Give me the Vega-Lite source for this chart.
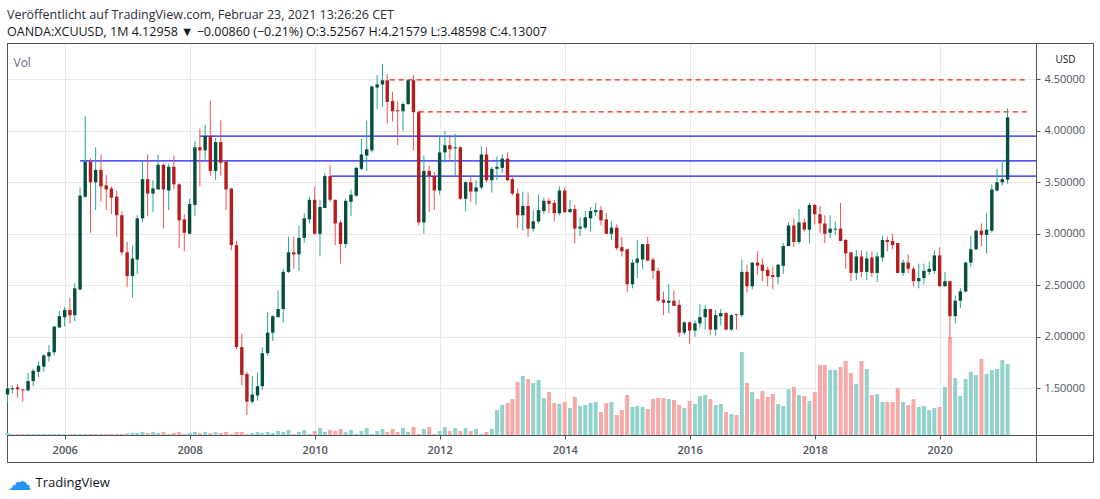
{
  "$schema": "https://vega.github.io/schema/vega-lite/v6.json",
  "width": 1029,
  "height": 392,
  "autosize": "none",
  "padding": {"left": 7, "top": 43, "right": 64, "bottom": 64},
  "background": "#ffffff",
  "title": {
    "text": "Veröffentlicht auf TradingView.com, Februar 23, 2021 13:26:26 CET",
    "subtitle": "OANDA:XCUUSD, 1M  4.12958 ▼ −0.00860 (−0.21%) O:3.52567 H:4.21579 L:3.48598 C:4.13007",
    "anchor": "start",
    "frame": "group",
    "offset": 5,
    "font": "Open Sans",
    "fontSize": 12.5,
    "fontWeight": "normal",
    "color": "#2a2e39",
    "subtitleFont": "Open Sans",
    "subtitleFontSize": 12.5,
    "subtitleFontWeight": "normal",
    "subtitleColor": "#131722",
    "subtitlePadding": 4
  },
  "datasets": {
    "levels": [
      {"s": "2006-04-01", "e": "2021-07-17", "p": 3.707, "k": "support"},
      {"s": "2008-03-01", "e": "2021-07-17", "p": 3.948, "k": "support"},
      {"s": "2010-04-05", "e": "2021-07-17", "p": 3.56, "k": "support"},
      {"s": "2011-03-15", "e": "2021-05-17", "p": 4.495, "k": "target"},
      {"s": "2011-09-01", "e": "2021-05-27", "p": 4.183, "k": "target"}
    ]
  },
  "data": {
    "values": [
      {"d": "2005-02-01", "o": 1.44, "h": 1.51, "l": 1.36, "c": 1.50, "v": 2},
      {"d": "2005-03-01", "o": 1.49, "h": 1.53, "l": 1.45, "c": 1.50, "v": 1},
      {"d": "2005-04-01", "o": 1.51, "h": 1.54, "l": 1.41, "c": 1.49, "v": 1},
      {"d": "2005-05-01", "o": 1.49, "h": 1.49, "l": 1.37, "c": 1.48, "v": 1},
      {"d": "2005-06-01", "o": 1.48, "h": 1.65, "l": 1.47, "c": 1.57, "v": 1},
      {"d": "2005-07-01", "o": 1.57, "h": 1.69, "l": 1.52, "c": 1.67, "v": 1},
      {"d": "2005-08-01", "o": 1.66, "h": 1.76, "l": 1.61, "c": 1.72, "v": 1},
      {"d": "2005-09-01", "o": 1.71, "h": 1.83, "l": 1.66, "c": 1.82, "v": 1},
      {"d": "2005-10-01", "o": 1.81, "h": 1.92, "l": 1.76, "c": 1.85, "v": 1},
      {"d": "2005-11-01", "o": 1.85, "h": 2.10, "l": 1.82, "c": 2.10, "v": 1},
      {"d": "2005-12-01", "o": 2.09, "h": 2.25, "l": 2.09, "c": 2.20, "v": 1},
      {"d": "2006-01-01", "o": 2.19, "h": 2.29, "l": 2.10, "c": 2.26, "v": 1},
      {"d": "2006-02-01", "o": 2.26, "h": 2.38, "l": 2.13, "c": 2.21, "v": 1},
      {"d": "2006-03-01", "o": 2.21, "h": 2.52, "l": 2.15, "c": 2.47, "v": 1},
      {"d": "2006-04-01", "o": 2.46, "h": 3.45, "l": 2.45, "c": 3.37, "v": 1},
      {"d": "2006-05-01", "o": 3.36, "h": 4.14, "l": 3.35, "c": 3.70, "v": 1},
      {"d": "2006-06-01", "o": 3.70, "h": 3.73, "l": 3.01, "c": 3.50, "v": 1},
      {"d": "2006-07-01", "o": 3.50, "h": 3.84, "l": 3.23, "c": 3.62, "v": 1},
      {"d": "2006-08-01", "o": 3.62, "h": 3.77, "l": 3.31, "c": 3.46, "v": 1},
      {"d": "2006-09-01", "o": 3.47, "h": 3.57, "l": 3.23, "c": 3.43, "v": 1},
      {"d": "2006-10-01", "o": 3.44, "h": 3.46, "l": 3.19, "c": 3.35, "v": 1},
      {"d": "2006-11-01", "o": 3.36, "h": 3.42, "l": 2.97, "c": 3.18, "v": 1},
      {"d": "2006-12-01", "o": 3.18, "h": 3.22, "l": 2.79, "c": 2.82, "v": 1},
      {"d": "2007-01-01", "o": 2.82, "h": 2.92, "l": 2.48, "c": 2.59, "v": 1.7},
      {"d": "2007-02-01", "o": 2.59, "h": 2.89, "l": 2.38, "c": 2.76, "v": 2},
      {"d": "2007-03-01", "o": 2.75, "h": 3.18, "l": 2.61, "c": 3.15, "v": 2},
      {"d": "2007-04-01", "o": 3.15, "h": 3.71, "l": 3.11, "c": 3.53, "v": 3},
      {"d": "2007-05-01", "o": 3.53, "h": 3.77, "l": 3.17, "c": 3.39, "v": 2},
      {"d": "2007-06-01", "o": 3.39, "h": 3.52, "l": 3.21, "c": 3.44, "v": 3},
      {"d": "2007-07-01", "o": 3.43, "h": 3.77, "l": 3.43, "c": 3.67, "v": 2},
      {"d": "2007-08-01", "o": 3.67, "h": 3.68, "l": 3.05, "c": 3.43, "v": 3},
      {"d": "2007-09-01", "o": 3.42, "h": 3.68, "l": 3.23, "c": 3.65, "v": 1},
      {"d": "2007-10-01", "o": 3.65, "h": 3.76, "l": 3.43, "c": 3.48, "v": 2},
      {"d": "2007-11-01", "o": 3.48, "h": 3.49, "l": 2.86, "c": 3.13, "v": 3},
      {"d": "2007-12-01", "o": 3.14, "h": 3.19, "l": 2.83, "c": 3.01, "v": 1},
      {"d": "2008-01-01", "o": 3.00, "h": 3.34, "l": 3.00, "c": 3.29, "v": 2},
      {"d": "2008-02-01", "o": 3.28, "h": 3.90, "l": 3.17, "c": 3.84, "v": 3},
      {"d": "2008-03-01", "o": 3.84, "h": 4.02, "l": 3.46, "c": 3.81, "v": 2},
      {"d": "2008-04-01", "o": 3.81, "h": 4.06, "l": 3.72, "c": 3.95, "v": 3},
      {"d": "2008-05-01", "o": 3.95, "h": 4.29, "l": 3.56, "c": 3.61, "v": 2},
      {"d": "2008-06-01", "o": 3.61, "h": 3.93, "l": 3.52, "c": 3.89, "v": 3},
      {"d": "2008-07-01", "o": 3.89, "h": 4.10, "l": 3.56, "c": 3.69, "v": 2},
      {"d": "2008-08-01", "o": 3.70, "h": 3.71, "l": 3.23, "c": 3.43, "v": 3},
      {"d": "2008-09-01", "o": 3.44, "h": 3.44, "l": 2.84, "c": 2.89, "v": 1},
      {"d": "2008-10-01", "o": 2.89, "h": 2.93, "l": 1.88, "c": 1.90, "v": 3},
      {"d": "2008-11-01", "o": 1.90, "h": 2.03, "l": 1.53, "c": 1.63, "v": 3},
      {"d": "2008-12-01", "o": 1.64, "h": 1.66, "l": 1.24, "c": 1.37, "v": 1},
      {"d": "2009-01-01", "o": 1.37, "h": 1.62, "l": 1.35, "c": 1.44, "v": 2},
      {"d": "2009-02-01", "o": 1.43, "h": 1.65, "l": 1.38, "c": 1.52, "v": 3},
      {"d": "2009-03-01", "o": 1.52, "h": 1.90, "l": 1.48, "c": 1.84, "v": 2},
      {"d": "2009-04-01", "o": 1.84, "h": 2.24, "l": 1.81, "c": 2.04, "v": 3},
      {"d": "2009-05-01", "o": 2.04, "h": 2.21, "l": 1.96, "c": 2.20, "v": 2},
      {"d": "2009-06-01", "o": 2.19, "h": 2.45, "l": 2.19, "c": 2.27, "v": 4},
      {"d": "2009-07-01", "o": 2.27, "h": 2.66, "l": 2.14, "c": 2.63, "v": 3},
      {"d": "2009-08-01", "o": 2.63, "h": 2.97, "l": 2.62, "c": 2.82, "v": 5},
      {"d": "2009-09-01", "o": 2.82, "h": 2.97, "l": 2.66, "c": 2.80, "v": 1},
      {"d": "2009-10-01", "o": 2.80, "h": 3.08, "l": 2.64, "c": 2.96, "v": 3},
      {"d": "2009-11-01", "o": 2.96, "h": 3.20, "l": 2.91, "c": 3.15, "v": 5},
      {"d": "2009-12-01", "o": 3.14, "h": 3.36, "l": 3.10, "c": 3.33, "v": 1},
      {"d": "2010-01-01", "o": 3.33, "h": 3.46, "l": 2.99, "c": 3.00, "v": 4},
      {"d": "2010-02-01", "o": 3.00, "h": 3.33, "l": 2.78, "c": 3.26, "v": 7},
      {"d": "2010-03-01", "o": 3.25, "h": 3.59, "l": 3.25, "c": 3.56, "v": 3},
      {"d": "2010-04-01", "o": 3.56, "h": 3.67, "l": 3.31, "c": 3.33, "v": 5},
      {"d": "2010-05-01", "o": 3.33, "h": 3.33, "l": 2.89, "c": 3.10, "v": 4},
      {"d": "2010-06-01", "o": 3.11, "h": 3.13, "l": 2.71, "c": 2.90, "v": 6},
      {"d": "2010-07-01", "o": 2.90, "h": 3.34, "l": 2.86, "c": 3.32, "v": 3},
      {"d": "2010-08-01", "o": 3.31, "h": 3.43, "l": 3.17, "c": 3.38, "v": 5},
      {"d": "2010-09-01", "o": 3.37, "h": 3.65, "l": 3.36, "c": 3.64, "v": 1},
      {"d": "2010-10-01", "o": 3.63, "h": 3.92, "l": 3.62, "c": 3.77, "v": 4},
      {"d": "2010-11-01", "o": 3.76, "h": 4.10, "l": 3.61, "c": 3.82, "v": 7},
      {"d": "2010-12-01", "o": 3.81, "h": 4.44, "l": 3.79, "c": 4.43, "v": 1},
      {"d": "2011-01-01", "o": 4.42, "h": 4.54, "l": 4.21, "c": 4.45, "v": 4},
      {"d": "2011-02-01", "o": 4.45, "h": 4.65, "l": 4.23, "c": 4.49, "v": 6},
      {"d": "2011-03-01", "o": 4.49, "h": 4.55, "l": 4.07, "c": 4.28, "v": 3},
      {"d": "2011-04-01", "o": 4.29, "h": 4.38, "l": 4.09, "c": 4.19, "v": 6},
      {"d": "2011-05-01", "o": 4.20, "h": 4.29, "l": 3.86, "c": 4.19, "v": 3},
      {"d": "2011-06-01", "o": 4.19, "h": 4.28, "l": 4.00, "c": 4.26, "v": 7},
      {"d": "2011-07-01", "o": 4.26, "h": 4.50, "l": 4.25, "c": 4.49, "v": 3},
      {"d": "2011-08-01", "o": 4.49, "h": 4.54, "l": 3.81, "c": 4.18, "v": 8},
      {"d": "2011-09-01", "o": 4.18, "h": 4.20, "l": 3.08, "c": 3.11, "v": 1},
      {"d": "2011-10-01", "o": 3.11, "h": 3.76, "l": 3.00, "c": 3.61, "v": 6},
      {"d": "2011-11-01", "o": 3.61, "h": 3.66, "l": 3.21, "c": 3.56, "v": 8},
      {"d": "2011-12-01", "o": 3.56, "h": 3.60, "l": 3.23, "c": 3.42, "v": 1},
      {"d": "2012-01-01", "o": 3.42, "h": 3.95, "l": 3.38, "c": 3.79, "v": 4},
      {"d": "2012-02-01", "o": 3.79, "h": 4.00, "l": 3.69, "c": 3.86, "v": 8},
      {"d": "2012-03-01", "o": 3.86, "h": 3.94, "l": 3.72, "c": 3.82, "v": 4},
      {"d": "2012-04-01", "o": 3.83, "h": 3.97, "l": 3.56, "c": 3.84, "v": 7},
      {"d": "2012-05-01", "o": 3.84, "h": 3.85, "l": 3.33, "c": 3.34, "v": 4},
      {"d": "2012-06-01", "o": 3.34, "h": 3.51, "l": 3.22, "c": 3.50, "v": 7},
      {"d": "2012-07-01", "o": 3.50, "h": 3.55, "l": 3.31, "c": 3.41, "v": 4},
      {"d": "2012-08-01", "o": 3.41, "h": 3.52, "l": 3.28, "c": 3.45, "v": 6},
      {"d": "2012-09-01", "o": 3.45, "h": 3.85, "l": 3.43, "c": 3.77, "v": 1},
      {"d": "2012-10-01", "o": 3.77, "h": 3.84, "l": 3.50, "c": 3.52, "v": 3},
      {"d": "2012-11-01", "o": 3.52, "h": 3.65, "l": 3.40, "c": 3.63, "v": 6},
      {"d": "2012-12-01", "o": 3.63, "h": 3.75, "l": 3.52, "c": 3.65, "v": 25},
      {"d": "2013-01-01", "o": 3.64, "h": 3.77, "l": 3.59, "c": 3.73, "v": 30},
      {"d": "2013-02-01", "o": 3.73, "h": 3.79, "l": 3.51, "c": 3.52, "v": 32},
      {"d": "2013-03-01", "o": 3.53, "h": 3.56, "l": 3.37, "c": 3.39, "v": 36},
      {"d": "2013-04-01", "o": 3.39, "h": 3.44, "l": 3.05, "c": 3.18, "v": 53},
      {"d": "2013-05-01", "o": 3.18, "h": 3.41, "l": 3.03, "c": 3.27, "v": 59},
      {"d": "2013-06-01", "o": 3.27, "h": 3.40, "l": 2.97, "c": 3.05, "v": 56},
      {"d": "2013-07-01", "o": 3.05, "h": 3.23, "l": 3.02, "c": 3.12, "v": 52},
      {"d": "2013-08-01", "o": 3.12, "h": 3.38, "l": 3.10, "c": 3.23, "v": 55},
      {"d": "2013-09-01", "o": 3.22, "h": 3.35, "l": 3.19, "c": 3.32, "v": 37},
      {"d": "2013-10-01", "o": 3.32, "h": 3.35, "l": 3.20, "c": 3.29, "v": 43},
      {"d": "2013-11-01", "o": 3.30, "h": 3.33, "l": 3.12, "c": 3.20, "v": 32},
      {"d": "2013-12-01", "o": 3.20, "h": 3.46, "l": 3.18, "c": 3.42, "v": 31},
      {"d": "2014-01-01", "o": 3.42, "h": 3.45, "l": 3.20, "c": 3.21, "v": 33},
      {"d": "2014-02-01", "o": 3.21, "h": 3.33, "l": 3.20, "c": 3.24, "v": 27},
      {"d": "2014-03-01", "o": 3.24, "h": 3.28, "l": 2.91, "c": 3.05, "v": 38},
      {"d": "2014-04-01", "o": 3.05, "h": 3.16, "l": 2.98, "c": 3.07, "v": 29},
      {"d": "2014-05-01", "o": 3.06, "h": 3.22, "l": 3.04, "c": 3.16, "v": 30},
      {"d": "2014-06-01", "o": 3.15, "h": 3.26, "l": 3.02, "c": 3.22, "v": 32},
      {"d": "2014-07-01", "o": 3.21, "h": 3.30, "l": 3.17, "c": 3.23, "v": 33},
      {"d": "2014-08-01", "o": 3.23, "h": 3.27, "l": 3.08, "c": 3.13, "v": 23},
      {"d": "2014-09-01", "o": 3.14, "h": 3.20, "l": 3.00, "c": 3.00, "v": 32},
      {"d": "2014-10-01", "o": 3.00, "h": 3.12, "l": 2.94, "c": 3.06, "v": 33},
      {"d": "2014-11-01", "o": 3.06, "h": 3.09, "l": 2.84, "c": 2.86, "v": 20},
      {"d": "2014-12-01", "o": 2.87, "h": 2.97, "l": 2.78, "c": 2.83, "v": 25},
      {"d": "2015-01-01", "o": 2.85, "h": 2.85, "l": 2.43, "c": 2.51, "v": 40},
      {"d": "2015-02-01", "o": 2.51, "h": 2.75, "l": 2.47, "c": 2.72, "v": 28},
      {"d": "2015-03-01", "o": 2.72, "h": 2.94, "l": 2.57, "c": 2.76, "v": 29},
      {"d": "2015-04-01", "o": 2.75, "h": 2.90, "l": 2.66, "c": 2.90, "v": 28},
      {"d": "2015-05-01", "o": 2.90, "h": 2.97, "l": 2.73, "c": 2.74, "v": 26},
      {"d": "2015-06-01", "o": 2.75, "h": 2.77, "l": 2.56, "c": 2.64, "v": 36},
      {"d": "2015-07-01", "o": 2.64, "h": 2.67, "l": 2.34, "c": 2.35, "v": 37},
      {"d": "2015-08-01", "o": 2.36, "h": 2.44, "l": 2.21, "c": 2.33, "v": 37},
      {"d": "2015-09-01", "o": 2.33, "h": 2.51, "l": 2.23, "c": 2.35, "v": 36},
      {"d": "2015-10-01", "o": 2.35, "h": 2.45, "l": 2.30, "c": 2.30, "v": 35},
      {"d": "2015-11-01", "o": 2.31, "h": 2.36, "l": 2.00, "c": 2.04, "v": 30},
      {"d": "2015-12-01", "o": 2.04, "h": 2.15, "l": 2.02, "c": 2.14, "v": 27},
      {"d": "2016-01-01", "o": 2.14, "h": 2.15, "l": 1.93, "c": 2.06, "v": 34},
      {"d": "2016-02-01", "o": 2.06, "h": 2.16, "l": 2.00, "c": 2.13, "v": 31},
      {"d": "2016-03-01", "o": 2.13, "h": 2.32, "l": 2.09, "c": 2.19, "v": 39},
      {"d": "2016-04-01", "o": 2.19, "h": 2.31, "l": 2.07, "c": 2.27, "v": 40},
      {"d": "2016-05-01", "o": 2.27, "h": 2.27, "l": 2.02, "c": 2.07, "v": 36},
      {"d": "2016-06-01", "o": 2.07, "h": 2.26, "l": 2.01, "c": 2.21, "v": 30},
      {"d": "2016-07-01", "o": 2.20, "h": 2.27, "l": 2.11, "c": 2.23, "v": 31},
      {"d": "2016-08-01", "o": 2.23, "h": 2.24, "l": 2.06, "c": 2.07, "v": 23},
      {"d": "2016-09-01", "o": 2.07, "h": 2.22, "l": 2.06, "c": 2.21, "v": 21},
      {"d": "2016-10-01", "o": 2.22, "h": 2.22, "l": 2.07, "c": 2.21, "v": 20},
      {"d": "2016-11-01", "o": 2.21, "h": 2.75, "l": 2.19, "c": 2.63, "v": 83},
      {"d": "2016-12-01", "o": 2.63, "h": 2.70, "l": 2.43, "c": 2.49, "v": 52},
      {"d": "2017-01-01", "o": 2.49, "h": 2.72, "l": 2.46, "c": 2.72, "v": 43},
      {"d": "2017-02-01", "o": 2.72, "h": 2.83, "l": 2.60, "c": 2.69, "v": 36},
      {"d": "2017-03-01", "o": 2.70, "h": 2.76, "l": 2.54, "c": 2.64, "v": 44},
      {"d": "2017-04-01", "o": 2.65, "h": 2.68, "l": 2.49, "c": 2.59, "v": 38},
      {"d": "2017-05-01", "o": 2.60, "h": 2.68, "l": 2.46, "c": 2.58, "v": 41},
      {"d": "2017-06-01", "o": 2.58, "h": 2.71, "l": 2.51, "c": 2.70, "v": 31},
      {"d": "2017-07-01", "o": 2.69, "h": 2.91, "l": 2.61, "c": 2.88, "v": 29},
      {"d": "2017-08-01", "o": 2.88, "h": 3.11, "l": 2.88, "c": 3.08, "v": 46},
      {"d": "2017-09-01", "o": 3.08, "h": 3.15, "l": 2.87, "c": 2.92, "v": 48},
      {"d": "2017-10-01", "o": 2.92, "h": 3.24, "l": 2.90, "c": 3.11, "v": 40},
      {"d": "2017-11-01", "o": 3.11, "h": 3.15, "l": 3.02, "c": 3.04, "v": 39},
      {"d": "2017-12-01", "o": 3.04, "h": 3.30, "l": 2.91, "c": 3.28, "v": 34},
      {"d": "2018-01-01", "o": 3.28, "h": 3.29, "l": 3.09, "c": 3.19, "v": 43},
      {"d": "2018-02-01", "o": 3.19, "h": 3.27, "l": 3.01, "c": 3.10, "v": 70},
      {"d": "2018-03-01", "o": 3.10, "h": 3.18, "l": 2.91, "c": 3.00, "v": 70},
      {"d": "2018-04-01", "o": 3.01, "h": 3.18, "l": 2.96, "c": 3.05, "v": 65},
      {"d": "2018-05-01", "o": 3.04, "h": 3.12, "l": 2.99, "c": 3.05, "v": 65},
      {"d": "2018-06-01", "o": 3.05, "h": 3.30, "l": 2.93, "c": 2.93, "v": 68},
      {"d": "2018-07-01", "o": 2.94, "h": 2.95, "l": 2.66, "c": 2.81, "v": 74},
      {"d": "2018-08-01", "o": 2.82, "h": 2.82, "l": 2.54, "c": 2.62, "v": 62},
      {"d": "2018-09-01", "o": 2.62, "h": 2.84, "l": 2.55, "c": 2.78, "v": 51},
      {"d": "2018-10-01", "o": 2.78, "h": 2.84, "l": 2.58, "c": 2.63, "v": 74},
      {"d": "2018-11-01", "o": 2.63, "h": 2.83, "l": 2.55, "c": 2.76, "v": 66},
      {"d": "2018-12-01", "o": 2.77, "h": 2.83, "l": 2.58, "c": 2.62, "v": 40},
      {"d": "2019-01-01", "o": 2.62, "h": 2.82, "l": 2.53, "c": 2.78, "v": 41},
      {"d": "2019-02-01", "o": 2.77, "h": 2.98, "l": 2.73, "c": 2.94, "v": 33},
      {"d": "2019-03-01", "o": 2.94, "h": 2.97, "l": 2.83, "c": 2.92, "v": 33},
      {"d": "2019-04-01", "o": 2.93, "h": 3.00, "l": 2.85, "c": 2.89, "v": 33},
      {"d": "2019-05-01", "o": 2.91, "h": 2.91, "l": 2.62, "c": 2.62, "v": 47},
      {"d": "2019-06-01", "o": 2.62, "h": 2.75, "l": 2.59, "c": 2.72, "v": 33},
      {"d": "2019-07-01", "o": 2.72, "h": 2.80, "l": 2.62, "c": 2.66, "v": 30},
      {"d": "2019-08-01", "o": 2.66, "h": 2.68, "l": 2.49, "c": 2.54, "v": 36},
      {"d": "2019-09-01", "o": 2.54, "h": 2.71, "l": 2.47, "c": 2.57, "v": 28},
      {"d": "2019-10-01", "o": 2.57, "h": 2.71, "l": 2.51, "c": 2.64, "v": 29},
      {"d": "2019-11-01", "o": 2.63, "h": 2.73, "l": 2.60, "c": 2.66, "v": 25},
      {"d": "2019-12-01", "o": 2.64, "h": 2.84, "l": 2.61, "c": 2.79, "v": 27},
      {"d": "2020-01-01", "o": 2.79, "h": 2.87, "l": 2.49, "c": 2.49, "v": 28},
      {"d": "2020-02-01", "o": 2.49, "h": 2.63, "l": 2.49, "c": 2.54, "v": 48},
      {"d": "2020-03-01", "o": 2.54, "h": 2.54, "l": 1.98, "c": 2.20, "v": 98},
      {"d": "2020-04-01", "o": 2.20, "h": 2.40, "l": 2.13, "c": 2.35, "v": 57},
      {"d": "2020-05-01", "o": 2.35, "h": 2.47, "l": 2.28, "c": 2.44, "v": 39},
      {"d": "2020-06-01", "o": 2.44, "h": 2.73, "l": 2.43, "c": 2.72, "v": 56},
      {"d": "2020-07-01", "o": 2.72, "h": 2.98, "l": 2.68, "c": 2.85, "v": 63},
      {"d": "2020-08-01", "o": 2.85, "h": 3.04, "l": 2.84, "c": 3.03, "v": 60},
      {"d": "2020-09-01", "o": 3.03, "h": 3.10, "l": 2.88, "c": 2.99, "v": 76},
      {"d": "2020-10-01", "o": 2.99, "h": 3.20, "l": 2.81, "c": 3.04, "v": 61},
      {"d": "2020-11-01", "o": 3.03, "h": 3.48, "l": 3.01, "c": 3.43, "v": 65},
      {"d": "2020-12-01", "o": 3.42, "h": 3.63, "l": 3.41, "c": 3.50, "v": 66},
      {"d": "2021-01-01", "o": 3.50, "h": 3.72, "l": 3.47, "c": 3.53, "v": 75},
      {"d": "2021-02-01", "o": 3.52567, "h": 4.21579, "l": 3.48598, "c": 4.13007, "v": 71}
    ]
  },
  "layer": [
    {
      "data": {"name": "levels"},
      "mark": {"type": "rule", "opacity": 0},
      "encoding": {
        "x": {
          "field": "s", "type": "temporal",
          "scale": {"type": "utc", "domain": ["2005-01-29", "2021-07-17"], "range": [0, 1086], "padding": 0},
          "axis": {"orient": "bottom", "offset": 27, "domain": true, "domainColor": "#50535e", "labels": false, "ticks": false, "grid": false, "title": null}
        },
        "y": {
          "field": "p", "type": "quantitative",
          "scale": {"domain": [1, 5], "range": [419, 0]},
          "axis": {"orient": "right", "offset": 57, "domain": true, "domainColor": "#50535e", "labels": false, "ticks": false, "grid": false, "title": null}
        }
      }
    },
    {
      "data": {"name": "levels"},
      "mark": {"type": "rule", "opacity": 0},
      "encoding": {
        "x": {
          "field": "s", "type": "temporal",
          "scale": {"type": "utc", "domain": ["2005-01-29", "2021-07-17"], "range": [0, 1086], "padding": 0},
          "axis": {"orient": "bottom", "offset": 0, "domain": true, "domainColor": "#50535e", "labels": false, "ticks": false, "grid": false, "title": null}
        },
        "y": {
          "field": "p", "type": "quantitative",
          "scale": {"domain": [1, 5], "range": [419, 0]},
          "axis": {"orient": "right", "offset": 0, "domain": true, "domainColor": "#50535e", "labels": false, "ticks": false, "grid": false, "title": null}
        }
      }
    },
    {
      "data": {"name": "levels"},
      "mark": {"type": "rule", "opacity": 0},
      "encoding": {
        "x": {
          "field": "s", "type": "temporal",
          "scale": {"type": "utc", "domain": ["2005-01-29", "2021-07-17"], "range": [0, 1086], "padding": 0},
          "axis": {"orient": "top", "offset": 0, "domain": true, "domainColor": "#50535e", "labels": false, "ticks": false, "grid": false, "title": null}
        },
        "y": {
          "field": "p", "type": "quantitative",
          "scale": {"domain": [1, 5], "range": [419, 0]},
          "axis": {
            "orient": "left", "offset": 0, "domain": true, "domainColor": "#50535e", "labels": false, "ticks": false, "grid": false,
            "title": "☁",
            "titleAngle": 0,
            "titleAlign": "left",
            "titleBaseline": "alphabetic",
            "titleX": 0,
            "titleY": 446,
            "titleFont": "DejaVu Sans",
            "titleFontSize": 24,
            "titleFontWeight": "normal",
            "titleColor": "#2196f3"
          }
        }
      }
    },
    {
      "mark": {"type": "bar", "width": 4},
      "encoding": {
        "x": {
          "field": "d",
          "type": "temporal",
          "scale": {"type": "utc", "domain": ["2005-01-29", "2021-07-17"], "padding": 0},
          "axis": {
            "orient": "bottom",
            "format": "%Y",
            "values": [
              {"year": 2006, "month": 1, "date": 1, "utc": true},
              {"year": 2008, "month": 1, "date": 1, "utc": true},
              {"year": 2010, "month": 1, "date": 1, "utc": true},
              {"year": 2012, "month": 1, "date": 1, "utc": true},
              {"year": 2014, "month": 1, "date": 1, "utc": true},
              {"year": 2016, "month": 1, "date": 1, "utc": true},
              {"year": 2018, "month": 1, "date": 1, "utc": true},
              {"year": 2020, "month": 1, "date": 1, "utc": true}
            ],
            "grid": true,
            "gridColor": "#e9e9ea",
            "domain": false,
            "ticks": true,
            "tickSize": 4,
            "tickColor": "#50535e",
            "labelFont": "Open Sans",
            "labelFontSize": 11,
            "labelFontWeight": 600,
            "labelColor": "#50535e",
            "labelPadding": 5,
            "title": "TradingView",
            "titleFont": "Open Sans",
            "titleFontSize": 13,
            "titleFontWeight": "normal",
            "titleColor": "#131722",
            "titleAlign": "left",
            "titleBaseline": "alphabetic",
            "titleX": 28,
            "titleY": 51
          }
        },
        "y": {
          "field": "v",
          "type": "quantitative",
          "scale": {"domain": [0, 392], "nice": false},
          "axis": {
            "orient": "left",
            "labels": false,
            "ticks": false,
            "domain": false,
            "grid": false,
            "title": "Vol",
            "titleAngle": 0,
            "titleAlign": "left",
            "titleBaseline": "alphabetic",
            "titleX": 6,
            "titleY": 23,
            "titleFont": "Open Sans",
            "titleFontSize": 12,
            "titleFontWeight": "normal",
            "titleColor": "#6a6d78"
          }
        },
        "color": {
          "condition": {"test": "datum.c >= datum.o", "value": "#92d2cc"},
          "value": "#f7a9a7"
        }
      }
    },
    {
      "data": {"name": "levels"},
      "transform": [{"filter": "datum.k === 'support'"}],
      "mark": {"type": "rule", "color": "#1a1aff", "strokeWidth": 1.3},
      "encoding": {
        "x": {"field": "s", "type": "temporal", "scale": {"type": "utc", "domain": ["2005-01-29", "2021-07-17"], "padding": 0}, "axis": null},
        "x2": {"field": "e"},
        "y": {
          "field": "p",
          "type": "quantitative",
          "scale": {"domain": [1.0466, 4.852], "nice": false, "zero": false},
          "axis": {
            "orient": "right",
            "values": [1.5, 2, 2.5, 3, 3.5, 4, 4.5],
            "format": ".5f",
            "grid": true,
            "gridColor": "#e9e9ea",
            "domain": false,
            "ticks": true,
            "tickSize": 4,
            "tickColor": "#50535e",
            "labelFont": "Open Sans",
            "labelFontSize": 11,
            "labelColor": "#50535e",
            "labelPadding": 4,
            "title": "USD",
            "titleAngle": 0,
            "titleAlign": "center",
            "titleBaseline": "middle",
            "titleX": 29,
            "titleY": 16,
            "titleFont": "Open Sans",
            "titleFontSize": 10,
            "titleFontWeight": "normal",
            "titleColor": "#131722"
          }
        }
      }
    },
    {
      "data": {"name": "levels"},
      "transform": [{"filter": "datum.k === 'target'"}],
      "mark": {"type": "rule", "color": "#ff1a1a", "strokeWidth": 1.2, "strokeDash": [5, 4]},
      "encoding": {
        "x": {"field": "s", "type": "temporal", "scale": {"type": "utc", "domain": ["2005-01-29", "2021-07-17"], "padding": 0}, "axis": null},
        "x2": {"field": "e"},
        "y": {"field": "p", "type": "quantitative", "scale": {"domain": [1.0466, 4.852], "nice": false, "zero": false}, "axis": null}
      }
    },
    {
      "mark": {"type": "rule", "strokeWidth": 1},
      "encoding": {
        "x": {"field": "d", "type": "temporal", "scale": {"type": "utc", "domain": ["2005-01-29", "2021-07-17"], "padding": 0}, "axis": null},
        "y": {"field": "l", "type": "quantitative", "scale": {"domain": [1.0466, 4.852], "nice": false, "zero": false}, "axis": null},
        "y2": {"field": "h"},
        "color": {
          "condition": {"test": "datum.c >= datum.o", "value": "#26a69a"},
          "value": "#ef5350"
        }
      }
    },
    {
      "mark": {"type": "bar", "width": 3.4},
      "encoding": {
        "x": {"field": "d", "type": "temporal", "scale": {"type": "utc", "domain": ["2005-01-29", "2021-07-17"], "padding": 0}, "axis": null},
        "y": {"field": "o", "type": "quantitative", "scale": {"domain": [1.0466, 4.852], "nice": false, "zero": false}, "axis": null},
        "y2": {"field": "c"},
        "color": {
          "condition": {"test": "datum.c >= datum.o", "value": "#064d3d"},
          "value": "#b71c1c"
        }
      }
    }
  ],
  "resolve": {
    "scale": {"x": "independent", "y": "independent"},
    "axis": {"x": "independent", "y": "independent"}
  },
  "config": {
    "view": {"stroke": "#50535e", "strokeWidth": 1},
    "font": "Open Sans"
  }
}
